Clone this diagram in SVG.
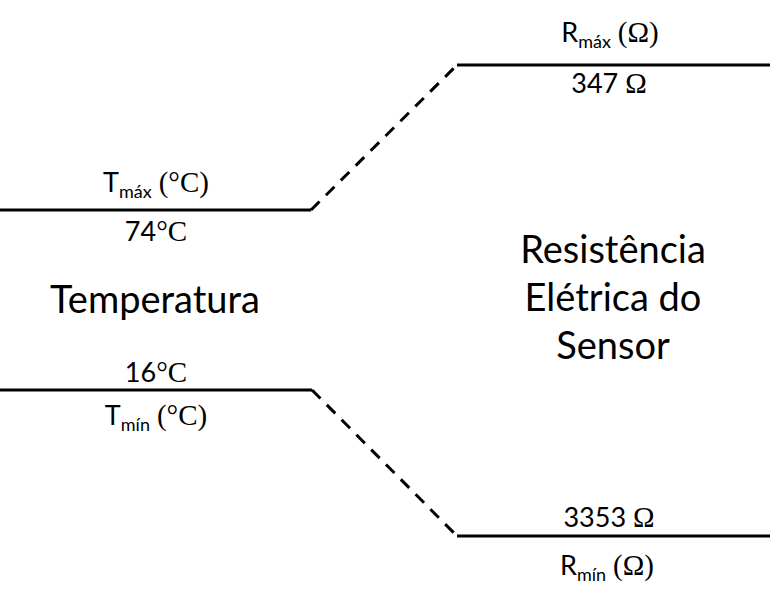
<svg xmlns="http://www.w3.org/2000/svg" width="770" height="600" viewBox="0 0 770 600">
<style>
.ln{stroke:#000;stroke-width:3;fill:none}
.ds{stroke:#000;stroke-width:3;fill:none;stroke-dasharray:12 9}
text{font-family:Lato,"Liberation Sans",sans-serif;fill:#000;text-anchor:middle}
.lb{font-size:27px}
.sub{font-size:18px}
.sf{font-family:"Liberation Serif",serif;font-size:29px}
.big{font-size:38px}
</style>
<rect width="770" height="600" fill="#fff"/>
<g id="connectors">
<line class="ds" x1="311" y1="210" x2="457" y2="65"/>
<line class="ds" x1="312" y1="390" x2="457" y2="536"/>
</g>
<g id="t-max">
<line class="ln" x1="0" y1="210" x2="311" y2="210"/>
<text class="lb" x="156" y="192">T<tspan class="sub" dy="6">máx</tspan><tspan dy="-6"> </tspan><tspan class="sf">(°C)</tspan></text>
<text class="lb" x="156" y="241">74<tspan class="sf">°C</tspan></text>
</g>
<g id="t-min">
<line class="ln" x1="0" y1="390" x2="312" y2="390"/>
<text class="lb" x="156" y="382">16<tspan class="sf">°C</tspan></text>
<text class="lb" x="156" y="425">T<tspan class="sub" dy="6">mín</tspan><tspan dy="-6"> </tspan><tspan class="sf">(°C)</tspan></text>
</g>
<g id="r-max">
<line class="ln" x1="457" y1="65" x2="770" y2="65"/>
<text class="lb" x="610" y="42">R<tspan class="sub" dy="6">máx</tspan><tspan dy="-6"> </tspan><tspan class="sf">(Ω)</tspan></text>
<text class="lb" x="609" y="93">347 <tspan class="sf">Ω</tspan></text>
</g>
<g id="r-min">
<line class="ln" x1="457" y1="536" x2="770" y2="536"/>
<text class="lb" x="609" y="527">3353 <tspan class="sf">Ω</tspan></text>
<text class="lb" x="607" y="575">R<tspan class="sub" dy="6">mín</tspan><tspan dy="-6"> </tspan><tspan class="sf">(Ω)</tspan></text>
</g>
<g id="temperatura">
<text class="big" x="155" y="313">Temperatura</text>
</g>
<g id="resistencia">
<text class="big" x="613" y="263">Resistência</text>
<text class="big" x="613" y="311">Elétrica do</text>
<text class="big" x="613" y="359">Sensor</text>
</g>
</svg>
